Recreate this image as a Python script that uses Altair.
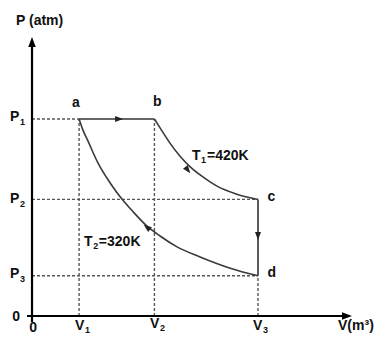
import altair as alt
import pandas as pd

# state values (arbitrary units)
V1, V2, V3 = 1.0, 2.6, 4.8
P1, P2, P3 = 4.9, 2.9, 1.0

# isotherm b -> c (T1)
bc_v = [2.6, 2.72, 2.93, 3.14, 3.36, 3.63, 3.93, 4.35, 4.8]
bc_p = [4.9, 4.68, 4.30, 3.98, 3.71, 3.46, 3.23, 3.03, 2.9]
# curve d -> a (T2), listed from a to d
ad_v = [1.0, 1.08, 1.19, 1.40, 1.66, 1.91, 2.15, 2.42, 2.72, 3.08, 3.57, 4.21, 4.8]
ad_p = [4.9, 4.63, 4.35, 3.81, 3.31, 2.91, 2.59, 2.26, 1.99, 1.72, 1.47, 1.19, 1.0]

XDOM = [-0.51, 7.264]
YDOM = [-0.448, 7.662]
FONT = "Liberation Sans"

xs = alt.Scale(domain=XDOM, nice=False, zero=False)
ys = alt.Scale(domain=YDOM, nice=False, zero=False)


def X(f="x"):
    return alt.X(f"{f}:Q", scale=xs, axis=None)


def Y(f="y"):
    return alt.Y(f"{f}:Q", scale=ys, axis=None)


# dashed guide lines
dashed = pd.DataFrame({
    "x": [0, 0, 0, V1, V2, V3],
    "y": [P1, P2, P3, 0, 0, 0],
    "x2": [V1, V3, V3, V1, V2, V3],
    "y2": [P1, P2, P3, P1, P1, P3],
})
dash_layer = alt.Chart(dashed).mark_rule(
    strokeDash=[3, 2], strokeWidth=1.4, color="#555555"
).encode(x=X(), y=Y(), x2="x2:Q", y2="y2:Q")

# solid process segments a-b, c-d
solid = pd.DataFrame({"x": [V1, V3], "y": [P1, P2], "x2": [V2, V3], "y2": [P1, P3]})
solid_layer = alt.Chart(solid).mark_rule(strokeWidth=1.6, color="#333333").encode(
    x=X(), y=Y(), x2="x2:Q", y2="y2:Q")

# curves
rows = []
for i, (v, p) in enumerate(zip(bc_v, bc_p)):
    rows.append({"curve": "bc", "i": i, "x": v, "y": p})
for i, (v, p) in enumerate(zip(ad_v, ad_p)):
    rows.append({"curve": "ad", "i": i, "x": v, "y": p})
curves = pd.DataFrame(rows)
curve_layer = alt.Chart(curves).mark_line(
    strokeWidth=1.6, color="#3a3a3a", interpolate="monotone"
).encode(x=X(), y=Y(), detail="curve:N", order="i:Q")

# axes
axes = pd.DataFrame({"x": [-0.106, 0], "y": [0, -0.15], "x2": [6.72, 0], "y2": [0, 6.8]})
axes_layer = alt.Chart(axes).mark_rule(strokeWidth=2.2, color="black").encode(
    x=X(), y=Y(), x2="x2:Q", y2="y2:Q")

ARROW = "M-0.75,1L0,-1L0.75,1Z"
axis_heads = pd.DataFrame({"x": [0, 6.69], "y": [6.816, 0], "a": [0, 90]})
axis_head_layer = alt.Chart(axis_heads).mark_point(
    shape=ARROW, filled=True, size=100, color="black", opacity=1
).encode(x=X(), y=Y(), angle=alt.Angle("a:Q", scale=None))

proc_heads = pd.DataFrame({
    "x": [1.85, 3.31, V3, 2.44],
    "y": [P1, 3.63, 1.99, 2.21],
    "a": [90, 142, 180, 308],
})
proc_head_layer = alt.Chart(proc_heads).mark_point(
    shape=ARROW, filled=True, size=64, color="#222222", opacity=1
).encode(x=X(), y=Y(), angle=alt.Angle("a:Q", scale=None))

# labels
big_txt = ["P (atm)", "P", "P", "P", "0", "0", "V", "V", "V", "V(m³)",
           "a", "b", "c", "d", "T", "=420K", "T", "=320K"]
big_x = [-0.34, -0.467, -0.467, -0.467, -0.42, -0.06, 0.913, 2.506, 4.694, 6.50,
         0.85, 2.57, 5.0, 5.0, 3.398, 3.717, 1.104, 1.42]
big_y = [7.34, 4.95, 2.91, 1.045, -0.025, -0.30, -0.249, -0.20, -0.249, -0.249,
         5.30, 5.32, 2.96, 1.07, 3.98, 3.98, 1.84, 1.84]
big = pd.DataFrame({"t": big_txt, "x": big_x, "y": big_y})
big_layer = alt.Chart(big).mark_text(
    font=FONT, fontWeight="bold", fontSize=14, align="left", baseline="middle", color="#111111"
).encode(x=X(), y=Y(), text="t:N")

sub_txt = ["1", "2", "3", "1", "2", "3", "1", "2"]
sub_x = [-0.255, -0.255, -0.255, 1.126, 2.719, 4.907, 3.59, 1.30]
sub_y = [4.83, 2.79, 0.92, -0.348, -0.30, -0.348, 3.88, 1.74]
sub = pd.DataFrame({"t": sub_txt, "x": sub_x, "y": sub_y})
sub_layer = alt.Chart(sub).mark_text(
    font=FONT, fontWeight="bold", fontSize=9, align="left", baseline="middle", color="#111111"
).encode(x=X(), y=Y(), text="t:N")

chart = alt.layer(
    dash_layer, solid_layer, curve_layer, axes_layer, axis_head_layer,
    proc_head_layer, big_layer, sub_layer
).properties(
    width=366, height=326, padding=0, autosize=alt.AutoSizeParams(type="none"),
    background="white"
).configure_view(stroke=None)

chart.save("out.html", embed_options={"renderer": "svg", "actions": False})
